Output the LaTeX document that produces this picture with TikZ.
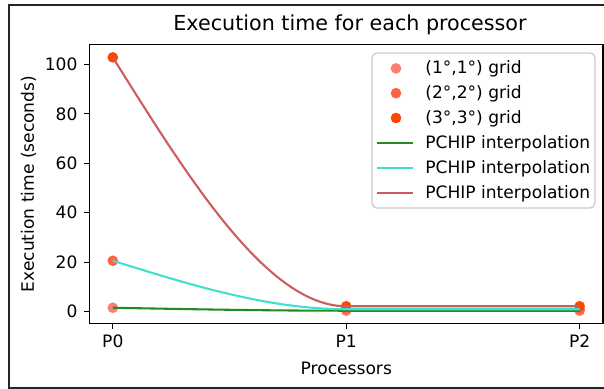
\documentclass[tikz,border=0pt]{standalone}
\usepackage{fontspec}
\setmainfont{DejaVu Sans}
\definecolor{csalmon}{HTML}{FA8072}
\definecolor{ctomato}{HTML}{FF6347}
\definecolor{corange}{HTML}{FF4500}
\definecolor{cgreen}{HTML}{228B22}
\definecolor{cturq}{HTML}{40E0D0}
\definecolor{cindian}{HTML}{CD5C5C}
\definecolor{legedge}{HTML}{CCCCCC}
\tikzset{
  spine/.style={line width=0.8pt, black},
  tickmark/.style={line width=0.8pt, black},
  ticklabel/.style={inner sep=0pt, font=\fontsize{10.25}{12}\selectfont},
  curve/.style={line width=1.25pt},
  legendbox/.style={draw=legedge, line width=0.8pt, fill=white, fill opacity=0.8, rounded corners=3pt},
  legtext/.style={anchor=base west, inner sep=0pt, font=\fontsize{10.25}{12}\selectfont},
}
\begin{document}
\begin{tikzpicture}[x=0.6pt,y=-0.6pt]
\useasboundingbox (0,0) rectangle (604,389);
\clip (0,0) rectangle (604,389);
% outer frame
\draw[line width=1.2pt, black!85] (9,5) rectangle (700,387.8);
% title
\node[anchor=base, inner sep=0pt, font=\fontsize{12.4}{14}\selectfont] (title) at (350,30.5) {Execution time for each processor};
% data scope
\coordinate (O) at (112.8,311.7);
\begin{scope}[shift={(O)}, x=140.04pt, y=1.4844pt]
  % data points
  \coordinate (a0) at (0,1.6);   \coordinate (a1) at (1,0.4); \coordinate (a2) at (2,0.4);
  \coordinate (b0) at (0,20.6);  \coordinate (b1) at (1,1.0); \coordinate (b2) at (2,1.0);
  \coordinate (c0) at (0,102.8); \coordinate (c1) at (1,2.2); \coordinate (c2) at (2,2.2);
  % scatter markers
  \foreach \p in {a0,a1,a2} \fill[csalmon] (\p) circle[radius=3.2pt];
  \foreach \p in {b0,b1,b2} \fill[ctomato] (\p) circle[radius=3.2pt];
  \foreach \p in {c0,c1,c2} \fill[corange] (\p) circle[radius=3.2pt];
  % PCHIP curves
  \draw[curve, cgreen] (a0) .. controls (0.3333,1.0) and (0.6667,0.4) .. (a1) -- (a2);
  \draw[curve, cturq] (b0) .. controls (0.3333,10.8) and (0.6667,1.0) .. (b1) -- (b2);
  \draw[curve, cindian] (c0) .. controls (0.3333,52.5) and (0.6667,2.2) .. (c1) -- (c2);
  % axes frame
  \draw[spine] (-0.1,-4.8) rectangle (2.1,108);
  % y ticks
  \foreach \v in {0,20,40,60,80,100} {
    \draw[tickmark] (-0.1,\v) -- ++(-3.5pt,0) coordinate (yt\v);
    \node[ticklabel, anchor=east, xshift=-3.5pt] (ytl\v) at (yt\v) {\v};
  }
  % x ticks
  \foreach \i in {0,1,2} {
    \draw[tickmark] (\i,-4.8) -- ++(0,-3.5pt) coordinate (xt\i);
    \node[ticklabel, anchor=north, yshift=-3.3pt] (xtl\i) at (xt\i) {P\i};
  }
\end{scope}
% axis labels
\node[ticklabel, anchor=north] (xlab) at (346.3,361.5) {Processors};
\node[ticklabel, rotate=90] (ylab) at (28.5,184) {Execution time (seconds)};
% legend
\draw[legendbox] (372,53) rectangle (595,208);
\fill[csalmon] (396,68.4) circle[radius=3.2pt];
\fill[ctomato] (396,93.2) circle[radius=3.2pt];
\fill[corange] (396,118.0) circle[radius=3.2pt];
\draw[curve, cgreen] (377,142.9) -- (413,142.9);
\draw[curve, cturq] (377,167.8) -- (413,167.8);
\draw[curve, cindian] (377,192.6) -- (413,192.6);
\node[legtext] (l1) at (425,73.9) {(1°,1°) grid};
\node[legtext] (l2) at (425,98.7) {(2°,2°) grid};
\node[legtext] (l3) at (425,123.5) {(3°,3°) grid};
\node[legtext] (l4) at (425,148.4) {PCHIP interpolation};
\node[legtext] (l5) at (425,173.3) {PCHIP interpolation};
\node[legtext] (l6) at (425,198.1) {PCHIP interpolation};
\end{tikzpicture}
\end{document}
